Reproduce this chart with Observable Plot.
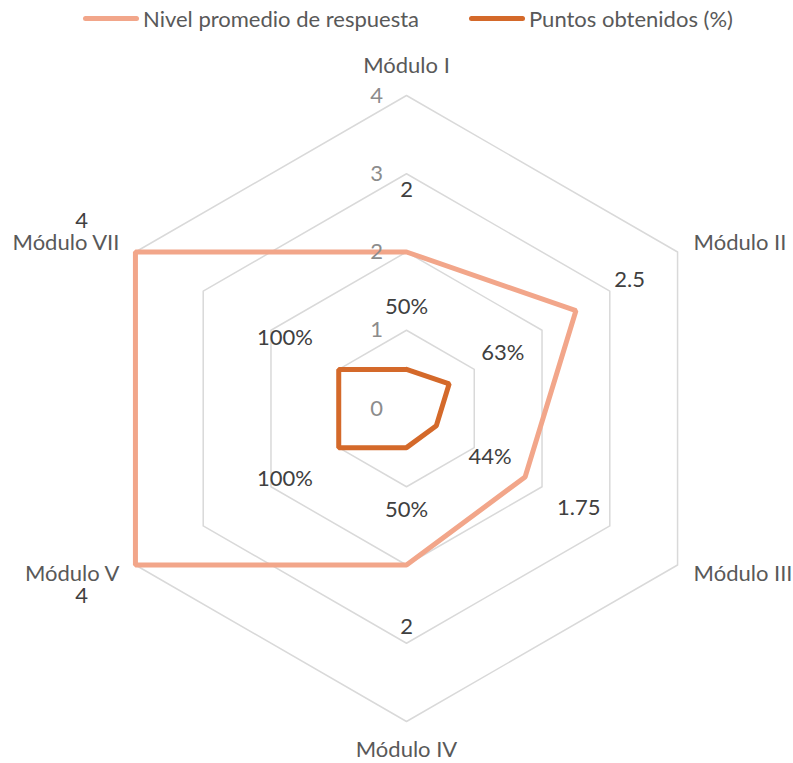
<!DOCTYPE html>
<html><head><meta charset="utf-8">
<script src="https://cdn.jsdelivr.net/npm/d3@7"></script>
<script src="https://cdn.jsdelivr.net/npm/@observablehq/plot@0.6"></script>
<style>
body{margin:0;background:#fff;font-family:Lato,"Open Sans",sans-serif;}
#legend{height:36px;position:relative;font-size:22px;color:#595959;width:793px;}
.item{position:absolute;top:4px;height:28px;display:flex;align-items:center;white-space:nowrap;}
.sw{width:56px;height:5px;border-radius:3px;margin-right:4px;}
</style></head><body>
<div id="legend"></div>
<div id="chart"></div>
<script>
const modulos = ["Módulo I","Módulo II","Módulo III","Módulo IV","Módulo V","Módulo VII"];
const nivelPromedio = [2, 2.5, 1.75, 2, 4, 4];
const puntosObtenidos = [0.50, 0.63, 0.44, 0.50, 1.00, 1.00];
const etiquetasNivel = ["2","2.5","1.75","2","4","4"];
const etiquetasPuntos = ["50%","63%","44%","50%","100%","100%"];
const series = ["Nivel promedio de respuesta","Puntos obtenidos (%)"];
const colores = ["#F2A68A","#D4692A"];
const nivelesRejilla = [1,2,3,4];
const marcasEje = ["0","1","2","3","4"];

// legend
const lg = document.getElementById("legend");
const lefts = [83, 469];
series.forEach((s,k)=>{
  const d = document.createElement("div");
  d.className="item"; d.style.left = lefts[k]+"px";
  d.innerHTML = `<span class="sw" style="background:${colores[k]}"></span><span>${s}</span>`;
  lg.appendChild(d);
});

const W=793, H=727, cx=406, cy=372, R=313, rMax=4;
const u = R/rMax;
const px = p => p/u;
const n = modulos.length;
const ang = i => Math.PI/2 - i*2*Math.PI/n;
const pt = (i, r) => [r*Math.cos(ang(i)), r*Math.sin(ang(i))];

const ring = nivelesRejilla.flatMap(l => d3.range(n+1).map(j => {const [x,y]=pt(j%n,l); return {l,x,y};}));
const poly = vals => d3.range(n+1).map(j => {const i=j%n; const [x,y]=pt(i, vals[i]); return {x,y};});
const off = px(62);
const labs = (vals, txt) => vals.map((v,i)=>{const [x,y]=pt(i, v+off); return {x,y,t:txt[i]};});

const cats = modulos.map((m,i)=>{
  const c = Math.cos(ang(i)), s = Math.sin(ang(i));
  if (Math.abs(c) < 1e-6) { const [x,y]=pt(i, rMax+px(s>0?30:28)); return {x,y,t:m,a:"middle"}; }
  const [x,y]=pt(i, rMax);
  return {x: x + Math.sign(c)*px(16), y: y + Math.sign(s)*px(9), t:m, a: c>0?"start":"end"};
});
const ticks = marcasEje.map((t,k)=>({x:-px(30), y:k, t}));

const fs = 22;
const chart = Plot.plot({
  width:W, height:H, margin:0,
  x:{domain:[-cx/u,(W-cx)/u], range:[0,W], axis:null},
  y:{domain:[-(H-cy)/u, cy/u], range:[H,0], axis:null},
  style:{fontFamily:"Lato, 'Open Sans', sans-serif", background:"#fff"},
  marks:[
    Plot.line(ring,{x:"x",y:"y",z:"l",stroke:"#d9d9d9",strokeWidth:1.5}),
    Plot.line(poly(nivelPromedio),{x:"x",y:"y",stroke:colores[0],strokeWidth:5,strokeLinejoin:"miter"}),
    Plot.line(poly(puntosObtenidos),{x:"x",y:"y",stroke:colores[1],strokeWidth:5,strokeLinejoin:"miter"}),
    Plot.text(ticks,{x:"x",y:"y",text:"t",fill:"#8c8c8c",fontSize:fs}),
    Plot.text(labs(nivelPromedio,etiquetasNivel),{x:"x",y:"y",text:"t",fill:"#404040",fontSize:fs}),
    Plot.text(labs(puntosObtenidos,etiquetasPuntos),{x:"x",y:"y",text:"t",fill:"#404040",fontSize:fs}),
    Plot.text(cats.filter(d=>d.a==="middle"),{x:"x",y:"y",text:"t",fill:"#595959",fontSize:fs,textAnchor:"middle"}),
    Plot.text(cats.filter(d=>d.a==="start"),{x:"x",y:"y",text:"t",fill:"#595959",fontSize:fs,textAnchor:"start"}),
    Plot.text(cats.filter(d=>d.a==="end"),{x:"x",y:"y",text:"t",fill:"#595959",fontSize:fs,textAnchor:"end"})
  ]
});
document.getElementById("chart").appendChild(chart);
</script>
</body></html>
